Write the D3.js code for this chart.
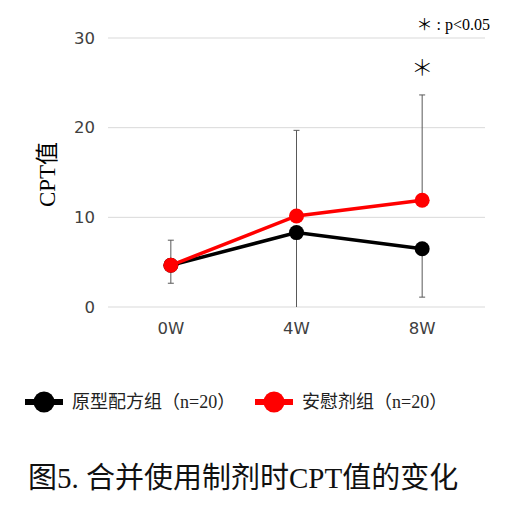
<!DOCTYPE html>
<html>
<head>
<meta charset="utf-8">
<script src="https://cdn.jsdelivr.net/npm/d3@7.9.0/dist/d3.min.js"></script>
<style>
  body { margin: 0; background: #fff; }
  svg { display: block; }
</style>
</head>
<body>
<svg id="chart" width="518" height="512"></svg>
<script>
const weeks = ['0W', '4W', '8W'];
const yTicks = [0, 10, 20, 30];

const formulaValues = [4.65, 8.3, 6.5];    // 原型配方组
const formulaErrLow = [2.0, 8.5, 5.4];
const placeboValues = [4.65, 10.15, 11.9]; // 安慰剂组
const placeboErrHigh = [2.8, 9.55, 11.75];

const seriesNames = ['原型配方组（n=20）', '安慰剂组（n=20）'];
const seriesColors = ['#000000', '#ff0000'];

const svg = d3.select('#chart');
const serif = '"Liberation Serif", "Times New Roman", "Noto Sans CJK SC", serif';
const sans = '"DejaVu Sans", "Noto Sans", sans-serif';

let x = d3.scaleBand().domain(weeks).range([108, 485]);
let y = d3.scaleLinear().domain([0, 30]).range([307, 38]);
let cx = (w) => x(w) + x.bandwidth() / 2;

// grid lines
svg.append('g')
  .selectAll('line')
  .data(yTicks)
  .join('line')
  .attr('x1', 108).attr('x2', 485)
  .attr('y1', (d) => y(d)).attr('y2', (d) => y(d))
  .attr('stroke', '#d9d9d9')
  .attr('stroke-width', 1);

// y tick labels
svg.append('g')
  .selectAll('text')
  .data(yTicks)
  .join('text')
  .attr('x', 95)
  .attr('y', (d) => y(d))
  .attr('dy', '0.35em')
  .attr('text-anchor', 'end')
  .attr('font-family', sans)
  .attr('font-size', 16.5)
  .attr('fill', '#404040')
  .text((d) => d);

// x tick labels
svg.append('g')
  .selectAll('text')
  .data(weeks)
  .join('text')
  .attr('x', (d) => cx(d))
  .attr('y', 328)
  .attr('dy', '0.35em')
  .attr('text-anchor', 'middle')
  .attr('font-family', sans)
  .attr('font-size', 16.5)
  .attr('fill', '#404040')
  .text((d) => d);

// y axis title
svg.append('text')
  .attr('transform', `translate(55,${y(15) + 2}) rotate(-90)`)
  .attr('text-anchor', 'middle')
  .attr('font-family', serif)
  .attr('font-size', 23)
  .attr('fill', '#000')
  .text('CPT值');

// error bars: placebo upward, formula downward
function errorBar(w, from, to) {
  let g = svg.append('g').attr('stroke', '#595959').attr('stroke-width', 1);
  g.append('line').attr('x1', cx(w)).attr('x2', cx(w)).attr('y1', y(from)).attr('y2', y(to));
  if (to > 0) {
    g.append('line').attr('x1', cx(w) - 3).attr('x2', cx(w) + 3).attr('y1', y(to)).attr('y2', y(to));
  }
}
weeks.forEach((w, i) => {
  errorBar(w, placeboValues[i], placeboValues[i] + placeboErrHigh[i]);
  errorBar(w, formulaValues[i], Math.max(0, formulaValues[i] - formulaErrLow[i]));
});

// lines and markers
const allSeries = [formulaValues, placeboValues];
const line = d3.line().x((d, i) => cx(weeks[i])).y((d) => y(d));
allSeries.forEach((vals, s) => {
  svg.append('path')
    .datum(vals)
    .attr('d', line)
    .attr('fill', 'none')
    .attr('stroke', seriesColors[s])
    .attr('stroke-width', 3.5);
  svg.append('g')
    .selectAll('circle')
    .data(vals)
    .join('circle')
    .attr('cx', (d, i) => cx(weeks[i]))
    .attr('cy', (d) => y(d))
    .attr('r', 7.5)
    .attr('fill', seriesColors[s]);
});

// significance marks
svg.append('text')
  .attr('x', cx('8W'))
  .attr('y', 67)
  .attr('dy', '0.35em')
  .attr('text-anchor', 'middle')
  .attr('font-family', serif)
  .attr('font-size', 22)
  .attr('font-weight', 300)
  .text('＊');

svg.append('text')
  .attr('x', 490)
  .attr('y', 24)
  .attr('dy', '0.35em')
  .attr('text-anchor', 'end')
  .attr('font-family', serif)
  .attr('font-size', 16)
  .text('＊ : p<0.05');

// legend
const legendX = [25, 255];
seriesNames.forEach((name, s) => {
  let g = svg.append('g').attr('transform', `translate(${legendX[s]},402)`);
  g.append('line')
    .attr('x1', 0).attr('x2', 38)
    .attr('stroke', seriesColors[s])
    .attr('stroke-width', 6);
  g.append('circle')
    .attr('cx', 19).attr('r', 10.5)
    .attr('fill', seriesColors[s]);
  g.append('text')
    .attr('x', 47)
    .attr('dy', '0.35em')
    .attr('font-family', serif)
    .attr('font-size', 18)
    .attr('fill', '#222')
    .text(name);
});

// caption
svg.append('text')
  .attr('x', 28)
  .attr('y', 488)
  .attr('font-family', serif)
  .attr('font-size', 29)
  .attr('fill', '#111')
  .text('图5. 合并使用制剂时CPT值的变化');
</script>
</body>
</html>
